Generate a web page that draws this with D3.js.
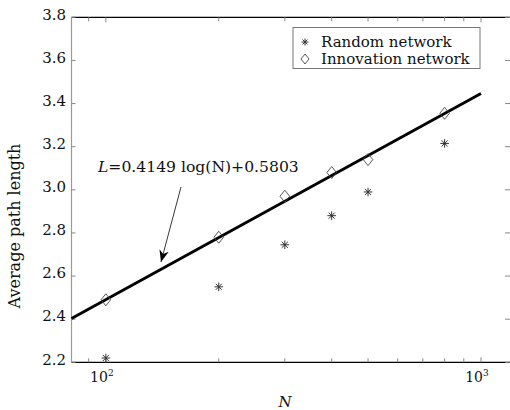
<!DOCTYPE html>
<html><head><meta charset="utf-8">
<script src="https://cdn.jsdelivr.net/npm/d3@7"></script>
<style>html,body{margin:0;padding:0;background:#fff;}svg{display:block;}</style>
</head><body>
<svg id="chart" width="510" height="410"></svg>
<script>
// ---- data ----
const nodes = [100, 200, 300, 400, 500, 800];
const randomNetwork = [2.22, 2.55, 2.745, 2.88, 2.99, 3.215];
const innovationNetwork = [2.49, 2.78, 2.97, 3.08, 3.14, 3.355];
const fitSlope = 0.4149, fitIntercept = 0.5803;
const fitRange = [81, 1000];
const yTicks = [2.2, 2.4, 2.6, 2.8, 3.0, 3.2, 3.4, 3.6, 3.8];
const xMajorTicks = [100, 1000];
const xMinorTicks = [90, 200, 300, 400, 500, 600, 700, 800, 900];
const xTickLabels = ["2", "3"];
const legendLabels = ["Random network", "Innovation network"];
const fitLabel = "=0.4149 log(N)+0.5803";

const svg = d3.select("#chart");
const x = d3.scaleLog().domain([81, 1195]).range([71.5, 510]);
const y = d3.scaleLinear().domain([2.2, 3.8]).range([362.3, 17.3]);
const serif = "'DejaVu Serif', serif";

// frame
svg.append("line").attr("x1", 71.5).attr("x2", 510).attr("y1", 17.3).attr("y2", 17.3).attr("stroke", "#000").attr("stroke-width", 1.2);
svg.append("line").attr("x1", 71.5).attr("x2", 510).attr("y1", 362.3).attr("y2", 362.3).attr("stroke", "#000").attr("stroke-width", 1.2);
svg.append("line").attr("x1", 71.5).attr("x2", 71.5).attr("y1", 17.3).attr("y2", 362.3).attr("stroke", "#999").attr("stroke-width", 1.2);

// y ticks (left & right, inward)
yTicks.forEach(v => {
  svg.append("line").attr("x1", 71.5).attr("x2", 75.5).attr("y1", y(v)).attr("y2", y(v)).attr("stroke", "#888");
  svg.append("line").attr("x1", 505).attr("x2", 510).attr("y1", y(v)).attr("y2", y(v)).attr("stroke", "#888");
  svg.append("text").attr("x", 66).attr("y", y(v) - 3).attr("dy", "0.35em").attr("text-anchor", "end")
    .attr("font-family", serif).attr("font-size", 15).attr("fill", "#111").text(d3.format(".1f")(v));
});
// x ticks (bottom & top, inward)
xMinorTicks.concat(xMajorTicks).forEach(v => {
  const len = xMajorTicks.includes(v) ? 5 : 4;
  svg.append("line").attr("x1", x(v)).attr("x2", x(v)).attr("y1", 362.3).attr("y2", 362.3 - len).attr("stroke", "#888");
  svg.append("line").attr("x1", x(v)).attr("x2", x(v)).attr("y1", 17.3).attr("y2", 17.3 + len).attr("stroke", "#888");
});
xMajorTicks.forEach((v, i) => {
  const t = svg.append("text").attr("x", x(v) - 4).attr("y", 382).attr("text-anchor", "middle")
    .attr("font-family", serif).attr("font-size", 14).attr("fill", "#111");
  t.append("tspan").text("10");
  t.append("tspan").attr("font-size", 9).attr("dy", -6).text(xTickLabels[i]);
});

// axis titles
svg.append("text").attr("transform", "translate(20,226) rotate(-90)").attr("text-anchor", "middle")
  .attr("font-family", serif).attr("font-size", 16).attr("fill", "#111").text("Average path length");
svg.append("text").attr("x", 285).attr("y", 407).attr("text-anchor", "middle")
  .attr("font-family", serif).attr("font-style", "italic").attr("font-size", 15).attr("fill", "#111").text("N");

// fit line
const line = d3.line().x(d => x(d)).y(d => y(fitSlope * Math.log(d) + fitIntercept));
svg.append("path").datum(fitRange).attr("d", line).attr("fill", "none").attr("stroke", "#000").attr("stroke-width", 2.9);

// markers
const starPath = r => {
  const a = r * Math.SQRT1_2;
  return `M${-r},0L${r},0M0,${-r}L0,${r}M${-a},${-a}L${a},${a}M${-a},${a}L${a},${-a}`;
};
const diamondPath = (w, h) => `M0,${-h}L${w},0L0,${h}L${-w},0Z`;
svg.selectAll(".rnd").data(nodes).enter().append("path")
  .attr("transform", (d, i) => `translate(${x(d)},${y(randomNetwork[i])})`)
  .attr("d", starPath(4.3)).attr("stroke", "#333").attr("stroke-width", 1).attr("fill", "none");
svg.selectAll(".inn").data(nodes).enter().append("path")
  .attr("transform", (d, i) => `translate(${x(d)},${y(innovationNetwork[i])})`)
  .attr("d", diamondPath(4.8, 6)).attr("stroke", "#444").attr("stroke-width", 0.9).attr("fill", "none");

// annotation
const ann = svg.append("text").attr("x", 98).attr("y", 172)
  .attr("font-family", serif).attr("font-size", 15.6).attr("fill", "#111");
ann.append("tspan").attr("font-style", "italic").text("L");
ann.append("tspan").text(fitLabel);
svg.append("defs").append("marker").attr("id", "ah").attr("viewBox", "0 0 10 10").attr("refX", 10).attr("refY", 5)
  .attr("markerWidth", 12).attr("markerHeight", 12).attr("markerUnits", "userSpaceOnUse").attr("orient", "auto")
  .append("path").attr("d", "M0,1L10,5L0,9L3,5Z").attr("fill", "#000");
svg.append("line").attr("x1", 181).attr("y1", 187).attr("x2", 161).attr("y2", 262)
  .attr("stroke", "#222").attr("stroke-width", 0.9).attr("marker-end", "url(#ah)");

// legend
svg.append("rect").attr("x", 293).attr("y", 27.5).attr("width", 187).attr("height", 41).attr("fill", "#fff").attr("stroke", "#777").attr("stroke-width", 1);
legendLabels.forEach((lab, i) => {
  const ly = 42 + i * 17;
  svg.append("text").attr("x", 321).attr("y", ly + 5).attr("font-family", serif).attr("font-size", 15).attr("fill", "#111").text(lab);
});
svg.append("path").attr("transform", "translate(305,42)").attr("d", starPath(3.5)).attr("stroke", "#333").attr("fill", "none");
svg.append("path").attr("transform", "translate(305,59)").attr("d", diamondPath(4, 5)).attr("stroke", "#444").attr("stroke-width", 0.9).attr("fill", "none");
</script>
</body></html>
